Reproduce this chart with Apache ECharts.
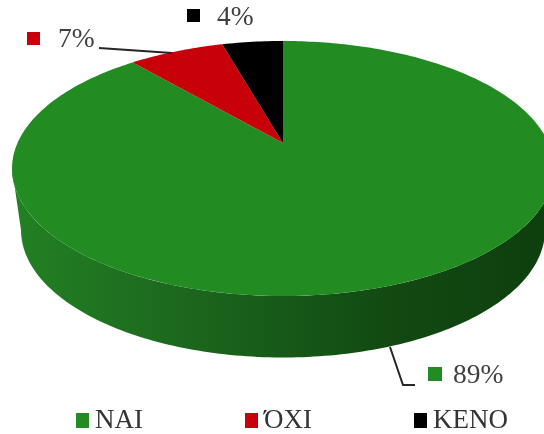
<!DOCTYPE html>
<html><head><meta charset="utf-8">
<style>html,body{margin:0;padding:0;background:#fff}#c{width:544px;height:434px}</style>
<script src="https://cdn.jsdelivr.net/npm/echarts@6/dist/echarts.min.js"></script>
</head><body><div id="c"></div>
<script>
const categories = ['ΝΑΙ', 'ΌΧΙ', 'ΚΕΝΟ'];
const values = [88.7, 6.9, 4.4];
const percentLabels = ['89%', '7%', '4%'];
const colors = ['#228b22', '#c8000a', '#000000'];
const total = values.reduce((a, b) => a + b, 0);

// projection of the tilted disc
const P = { cx: 283, k: 0.2, B: 122.4, top: { A: 265.5, y: 143 }, bot: { A: 256.7, y: 204.5 } };
function proj(deg, rim) {
  const t = deg * Math.PI / 180, u = Math.sin(t), s = -Math.cos(t), w = 1 - P.k * s;
  return [P.cx + rim.A * u / w, rim.y + P.B * s / w];
}
const FRONT = [101.5, 258.5];
const labelPos = [
  { sq: [428, 367, 14, 14], txt: [453, 376], line: [[390, 347], [403, 385], [415, 385]] },
  { sq: [27, 32, 13, 13], txt: [58, 40], line: [[99, 48], [172, 53]] },
  { sq: [187, 9, 13, 13], txt: [217, 18], line: null }
];

function renderSlice(i) {
  return function (params, api) {
    const start = values.slice(0, i).reduce((a, b) => a + b, 0) / total * 360;
    const end = start + api.value(0) / total * 360;
    const children = [];
    // side wall, visible front part only
    const a0 = Math.max(start, FRONT[0]), a1 = Math.min(end, FRONT[1]);
    if (a1 > a0) {
      const pts = [];
      for (let d = a0; d <= a1; d += 1) pts.push(proj(d, P.top));
      pts.push(proj(a1, P.top));
      pts.push(proj(a1, P.bot));
      for (let d = a1; d >= a0; d -= 1) pts.push(proj(d, P.bot));
      pts.push(proj(a0, P.bot));
      children.push({
        type: 'polygon', shape: { points: pts },
        style: { fill: new echarts.graphic.LinearGradient(12, 0, 544, 0, [
          { offset: 0, color: '#228122' }, { offset: 0.25, color: '#1e6d20' },
          { offset: 0.5, color: '#175a18' }, { offset: 0.7, color: '#124a12' },
          { offset: 1, color: '#0e3f0e' }
        ], true) }
      });
    }
    // top face
    const top = [[P.cx, P.top.y]];
    for (let d = start; d < end; d += 1) top.push(proj(d, P.top));
    top.push(proj(end, P.top));
    children.push({ type: 'polygon', shape: { points: top }, style: { fill: colors[i] } });
    // data label
    const L = labelPos[i];
    if (L.line) children.push({ type: 'polyline', shape: { points: L.line },
      style: { stroke: '#262626', lineWidth: 2, fill: 'none' } });
    children.push({ type: 'rect', shape: { x: L.sq[0], y: L.sq[1], width: L.sq[2], height: L.sq[3] },
      style: { fill: colors[i] } });
    children.push({ type: 'text', x: L.txt[0], y: L.txt[1], style: {
      text: percentLabels[i], fill: '#404040', align: 'left', verticalAlign: 'middle',
      font: '27.5px "Liberation Serif"' } });
    return { type: 'group', children };
  };
}

const chart = echarts.init(document.getElementById('c'), null, { renderer: 'canvas' });
chart.setOption({
  animation: false,
  backgroundColor: '#fff',
  legend: {
    left: 71, top: 402, itemWidth: 13, itemHeight: 15, itemGap: 102,
    icon: 'rect', selectedMode: false,
    textStyle: { fontFamily: 'Liberation Serif', fontSize: 27, color: '#333333', padding: [0, 0, 0, 1] },
    data: categories
  },
  series: categories.map((name, i) => ({
    type: 'custom', name, coordinateSystem: 'none', silent: true, z: 2 + i,
    itemStyle: { color: colors[i] },
    data: [[values[i]]], renderItem: renderSlice(i)
  }))
});
</script></body></html>
